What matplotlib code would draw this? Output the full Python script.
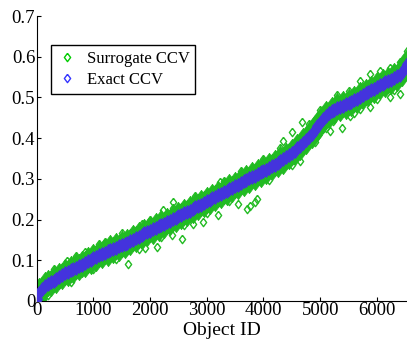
import matplotlib
matplotlib.use('Agg')
import matplotlib.pyplot as plt
from matplotlib.lines import Line2D

plt.rcParams['font.family'] = ['Liberation Serif', 'DejaVu Serif']

# object ids (sorted by exact CCV), sampled every 50
object_id = list(range(0, 6501, 50)) + [6530]

exact_ccv = [
    0.004, 0.020, 0.030, 0.037, 0.042, 0.046, 0.050, 0.054, 0.058, 0.064,
    0.068, 0.071, 0.075, 0.078, 0.082, 0.085, 0.089, 0.093, 0.097, 0.101,
    0.105, 0.108, 0.112, 0.115, 0.119, 0.122, 0.125, 0.128, 0.131, 0.134,
    0.137, 0.140, 0.143, 0.147, 0.151, 0.155, 0.158, 0.162, 0.166, 0.169,
    0.173, 0.176, 0.180, 0.183, 0.187, 0.190, 0.194, 0.197, 0.201, 0.204,
    0.208, 0.211, 0.215, 0.219, 0.222, 0.226, 0.230, 0.234, 0.237, 0.241,
    0.245, 0.249, 0.252, 0.256, 0.260, 0.263, 0.267, 0.271, 0.275, 0.278,
    0.282, 0.286, 0.290, 0.294, 0.298, 0.301, 0.305, 0.308, 0.312, 0.316,
    0.320, 0.323, 0.327, 0.331, 0.335, 0.339, 0.344, 0.348, 0.353, 0.358,
    0.363, 0.369, 0.375, 0.381, 0.388, 0.395, 0.403, 0.411, 0.420, 0.429,
    0.438, 0.447, 0.455, 0.461, 0.466, 0.470, 0.474, 0.477, 0.480, 0.483,
    0.486, 0.489, 0.493, 0.497, 0.502, 0.506, 0.510, 0.514, 0.518, 0.522,
    0.526, 0.530, 0.533, 0.537, 0.540, 0.544, 0.548, 0.552, 0.556, 0.562,
    0.572, 0.582,
]

surrogate_ccv = [
    0.006, 0.024, 0.028, 0.040, 0.045, 0.043, 0.054, 0.051, 0.061, 0.062,
    0.071, 0.068, 0.078, 0.076, 0.085, 0.083, 0.092, 0.090, 0.100, 0.098,
    0.109, 0.105, 0.115, 0.112, 0.122, 0.119, 0.129, 0.125, 0.134, 0.131,
    0.141, 0.137, 0.146, 0.144, 0.155, 0.152, 0.162, 0.159, 0.169, 0.166,
    0.177, 0.173, 0.184, 0.180, 0.191, 0.187, 0.197, 0.194, 0.205, 0.201,
    0.211, 0.208, 0.219, 0.216, 0.226, 0.223, 0.234, 0.231, 0.241, 0.238,
    0.249, 0.246, 0.256, 0.253, 0.264, 0.260, 0.271, 0.268, 0.279, 0.275,
    0.286, 0.283, 0.294, 0.291, 0.302, 0.298, 0.309, 0.305, 0.316, 0.313,
    0.324, 0.320, 0.331, 0.328, 0.339, 0.336, 0.348, 0.345, 0.357, 0.355,
    0.367, 0.366, 0.379, 0.378, 0.392, 0.392, 0.407, 0.408, 0.424, 0.426,
    0.442, 0.444, 0.459, 0.458, 0.470, 0.467, 0.478, 0.474, 0.484, 0.480,
    0.490, 0.486, 0.497, 0.494, 0.506, 0.503, 0.514, 0.511, 0.522, 0.519,
    0.530, 0.527, 0.537, 0.534, 0.544, 0.541, 0.552, 0.549, 0.560, 0.559,
    0.576, 0.588,
]

# scattered surrogate points away from the main band
sur_out_id = [528, 852, 1205, 1616, 1852, 1910, 2116, 2233, 2381, 2410,
              2557, 2762, 2938, 3203, 3233, 3556, 3586, 3703, 3760, 3850,
              3880, 4350, 4497, 4644, 4674, 5173, 5231, 5379, 5526, 5702,
              5878, 6231, 6407, 5702, 5878, 6055, 6231, 6407, 6525,
              300, 700, 1100, 1500, 2000, 2400, 2800, 3300, 3600, 4000,
              4300, 4800, 5000, 5300, 5500,
              200, 600, 1000, 1400, 1800, 2200, 2600, 3000, 3400, 4100,
              4500, 4900, 5100, 5600, 6000, 6300]
sur_out_ccv = [0.099, 0.121, 0.145, 0.090, 0.190, 0.129, 0.132, 0.223, 0.161, 0.243,
               0.153, 0.190, 0.194, 0.210, 0.292, 0.239, 0.308, 0.227, 0.233, 0.243,
               0.251, 0.394, 0.414, 0.345, 0.439, 0.418, 0.443, 0.425, 0.455, 0.472,
               0.476, 0.500, 0.508, 0.541, 0.557, 0.565, 0.573, 0.586, 0.614,
               0.078, 0.110, 0.140, 0.166, 0.200, 0.228, 0.258, 0.295, 0.320, 0.350,
               0.375, 0.435, 0.470, 0.505, 0.515,
               0.015, 0.046, 0.078, 0.102, 0.128, 0.158, 0.186, 0.215, 0.246, 0.298,
               0.333, 0.390, 0.424, 0.462, 0.497, 0.518]

GREEN = '#22bb22'
BLUE = '#4433dd'
DIAMOND = [(0, 1), (0.75, 0), (0, -1), (-0.75, 0), (0, 1)]

fig = plt.figure(figsize=(4.07, 3.42), dpi=100)
ax = fig.add_axes([0.090, 0.120, 0.910, 0.833])

ax.plot(object_id, surrogate_ccv, linestyle='none', marker=DIAMOND, markersize=19,
        color=GREEN, markeredgecolor=GREEN, markeredgewidth=0.5, zorder=2)
ax.plot(sur_out_id, sur_out_ccv, linestyle='none', marker=DIAMOND, markersize=6,
        markerfacecolor='none', markeredgecolor=GREEN, markeredgewidth=1, zorder=2)
ax.plot(object_id, exact_ccv, linestyle='none', marker=DIAMOND, markersize=10,
        color=BLUE, markeredgecolor=BLUE, markeredgewidth=0.5, zorder=3)

ax.set_xlim(0, 6531)
ax.set_ylim(0, 0.7)
ax.set_xticks(range(0, 6001, 1000))
ax.set_yticks([0, 0.1, 0.2, 0.3, 0.4, 0.5, 0.6, 0.7])
ax.set_yticklabels(['0', '0.1', '0.2', '0.3', '0.4', '0.5', '0.6', '0.7'])
ax.tick_params(direction='in', length=3, labelsize=13.5, pad=1)
ax.spines['top'].set_visible(False)
ax.spines['right'].set_visible(False)
ax.set_xlabel('Object ID', fontsize=14, labelpad=2)

handles = [
    Line2D([], [], linestyle='none', marker=DIAMOND, markersize=6,
           markerfacecolor='none', markeredgecolor='#00cc00', label='Surrogate CCV'),
    Line2D([], [], linestyle='none', marker=DIAMOND, markersize=6,
           markerfacecolor='none', markeredgecolor='#3333ff', label='Exact CCV'),
]
leg = ax.legend(handles=handles, loc='upper left', bbox_to_anchor=(0.038, 0.898),
                borderaxespad=0, fontsize=12, fancybox=False, framealpha=1,
                edgecolor='black', handlelength=1.2, handletextpad=0.6,
                borderpad=0.35, labelspacing=0.3)
leg.get_frame().set_linewidth(1)

fig.savefig('out.png', dpi=100)
